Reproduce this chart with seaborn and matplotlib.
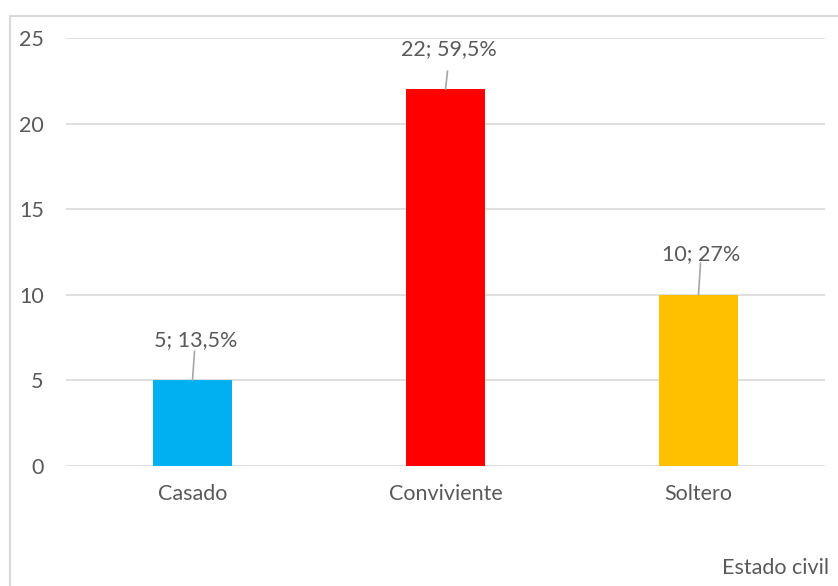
import matplotlib
matplotlib.use("Agg")
import matplotlib.pyplot as plt
import seaborn as sns
import pandas as pd
from matplotlib.patches import Rectangle

categories = ["Casado", "Conviviente", "Soltero"]
counts = [5, 22, 10]
colors = ["#00B0F0", "#FF0000", "#FFC000"]
yticks = [0, 5, 10, 15, 20, 25]
axis_title = "Estado civil"

sns.set_theme(style="white")
plt.rcParams["font.family"] = ["Lato", "DejaVu Sans"]
txt = "#595959"
grid = "#D9D9D9"
fs = 15.5

df = pd.DataFrame({"cat": categories, "n": counts})
fig = plt.figure(figsize=(8.38, 5.86), dpi=100)
ax = fig.add_axes([66/838, 1-466/586, (825-66)/838, (466-38)/586])
sns.barplot(data=df, x="cat", y="n", hue="cat", palette=colors, width=0.316,
            legend=False, ax=ax, saturation=1, zorder=3, linewidth=0)

ax.set_xlim(-0.5, 2.5)
ax.set_ylim(0, 25)
ax.set_yticks(yticks)
for y in yticks:
    ax.axhline(y, color=grid, lw=1.2, zorder=1)
for s in ax.spines.values():
    s.set_visible(False)
ax.set_xlabel("")
ax.set_ylabel("")
ax.tick_params(axis="y", length=0, pad=16, labelsize=fs, labelcolor=txt)
ax.tick_params(axis="x", length=0, pad=13, labelsize=fs, labelcolor=txt)

total = sum(counts)
line_tops = [1.7, 1.07, 1.86]
for i, (c, tp) in enumerate(zip(counts, line_tops)):
    pct = round(100 * c / total, 1)
    ps = (f"{pct:.1f}".rstrip("0").rstrip(".")).replace(".", ",")
    lab = f"{c}; {ps}%"
    ax.text(i + 0.012, c + 2.35, lab, ha="center", va="center", fontsize=fs, color=txt, zorder=4)
    ax.plot([i, i + 0.008], [c, c + tp], color="#A6A6A6", lw=1.2, zorder=4)

fig.patches.append(Rectangle((10/838, -0.1), 1.2, 1 - 16/586 + 0.1, transform=fig.transFigure,
                             fill=False, edgecolor=grid, lw=1.5, zorder=0))
fig.text(722/838, 1 - 568/586, axis_title, ha="left", va="center", fontsize=fs, color=txt)

fig.savefig("out.png", dpi=100)
